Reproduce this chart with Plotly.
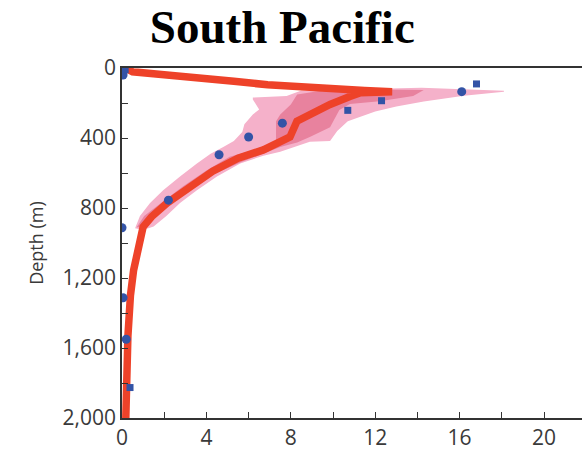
import plotly.graph_objects as go

# Mean profile (value, depth m)
mean_val = [0.15, 0.5, 2.0, 3.7, 5.3, 6.9, 8.5, 10.0, 11.5, 12.8, 11.3, 10.8, 9.86, 8.29, 8.1, 7.96,
            6.7, 5.5, 4.3, 3.2, 2.13, 1.4, 1.0, 0.55, 0.4, 0.28, 0.19, 0.18]
mean_dep = [0, 22, 38, 54, 76, 96, 110, 120, 128, 135, 141, 163, 208, 304, 361, 394,
            468, 515, 590, 676, 772, 850, 908, 1155, 1300, 1532, 1983, 2000]

# Outer (light) envelope polygon
outer_val = [6.2, 7.8, 8.5, 11.0, 14.2, 18.1, 18.1, 16.2, 14.3, 13.0, 12.0, 10.7, 10.2, 9.86,
             8.9, 7.5, 6.7, 5.6, 4.5, 3.55, 2.75, 2.1, 1.5, 1.0,
             0.62, 0.85, 1.33, 1.95, 2.75, 3.55, 4.2, 4.8, 5.3, 5.7, 5.8, 6.2, 6.5, 6.2]
outer_dep = [169, 160, 128, 122, 113, 130, 135, 158, 192, 220, 248, 304, 360, 417,
             422, 479, 501, 546, 620, 699, 772, 845, 905, 925,
             915, 845, 772, 699, 620, 546, 490, 451, 417, 366, 321, 265, 237, 180]

# Inner (dark) envelope polygon
inner_val = [8.3, 9.5, 11.0, 14.3, 13.8, 12.2, 10.8, 10.3, 9.86, 8.9, 8.3, 7.5, 5.6, 4.3, 3.2,
             2.1, 1.3, 1.0,
             0.7, 1.05, 1.85, 2.9, 4.0, 5.1, 6.2, 7.3, 7.3, 7.3, 7.5, 8.0]
inner_dep = [152, 128, 122, 126, 160, 190, 205, 240, 338, 394, 425, 451, 540, 610, 700,
             790, 870, 910,
             910, 845, 772, 676, 586, 507, 470, 420, 338, 304, 265, 208]

# Observations
circ_val = [0.05, 16.1, 7.6, 6.0, 4.6, 2.2, 0.0, 0.05, 0.2]
circ_dep = [40, 135, 315, 394, 496, 755, 913, 1313, 1550]
sq_val = [0.15, 16.8, 12.3, 10.7, 0.38]
sq_dep = [10, 91, 187, 242, 1826]

y_ticks = list(range(0, 2001, 200))
y_text = [f"{v:,}" if v % 400 == 0 else "" for v in y_ticks]
x_ticks = list(range(0, 22, 2))
x_text = [str(v) if v % 4 == 0 else "" for v in x_ticks]

fig = go.Figure()
fig.add_trace(go.Scatter(x=outer_val, y=outer_dep, fill="toself", mode="none",
                         fillcolor="#F5B1CA", hoverinfo="skip"))
fig.add_trace(go.Scatter(x=inner_val, y=inner_dep, fill="toself", mode="none",
                         fillcolor="#E8829E", hoverinfo="skip"))
fig.add_trace(go.Scatter(x=mean_val, y=mean_dep, mode="lines",
                         line=dict(color="#EE4229", width=7.5)))
fig.add_trace(go.Scatter(x=circ_val, y=circ_dep, mode="markers",
                         marker=dict(symbol="circle", size=9, color="#3353A6")))
fig.add_trace(go.Scatter(x=sq_val, y=sq_dep, mode="markers",
                         marker=dict(symbol="square", size=7, color="#3353A6")))

fig.update_layout(
    width=582, height=451,
    margin=dict(l=122, r=0, t=68, b=28),
    paper_bgcolor="white", plot_bgcolor="white",
    showlegend=False,
    title=dict(text="<b>South Pacific</b>", x=0.485, xanchor="center", y=0.978, yanchor="top",
               font=dict(family="Liberation Serif", size=47, color="black")),
    font=dict(family="Open Sans", color="#3a3a3a"),
)
fig.update_xaxes(range=[0, 21.8], tickvals=x_ticks, ticktext=x_text, ticks="inside",
                 ticklen=6, tickcolor="#333", showline=True, linecolor="#333", linewidth=1.5,
                 mirror=True, showgrid=False, zeroline=False,
                 tickfont=dict(size=21, color="#3a3a3a"))
fig.update_yaxes(range=[2000, 0], tickvals=y_ticks, ticktext=y_text, ticks="inside",
                 ticklen=6, tickcolor="#333", showline=True, linecolor="#333", linewidth=1.5,
                 showgrid=False, zeroline=False,
                 tickfont=dict(size=21, color="#3a3a3a"),
                 title=dict(text="Depth (m)", font=dict(size=18, color="#3a3a3a"), standoff=14))

fig.write_html("out.html")
